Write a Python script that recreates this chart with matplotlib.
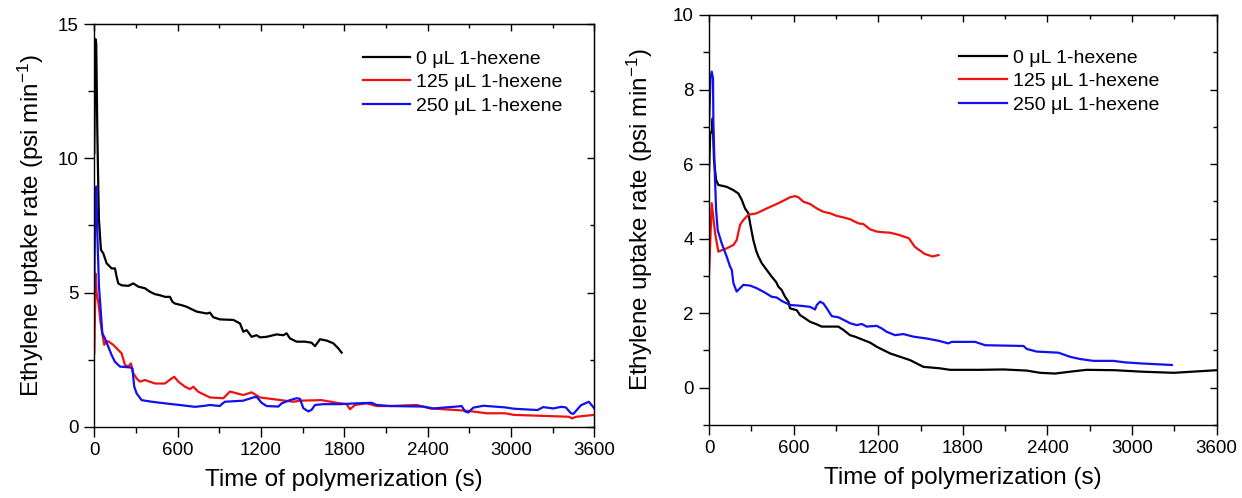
import matplotlib
matplotlib.use('Agg')
import matplotlib.pyplot as plt
from matplotlib.ticker import MultipleLocator

plt.rcParams['font.family'] = ['Liberation Sans', 'DejaVu Sans']
plt.rcParams['mathtext.fontset'] = 'custom'
plt.rcParams['mathtext.rm'] = 'Liberation Sans'
plt.rcParams['mathtext.it'] = 'Liberation Sans:italic'

labels = ['0 \u03bcL 1-hexene', '125 \u03bcL 1-hexene', '250 \u03bcL 1-hexene']
colors = ['black', '#f01010', '#1010f0']

# left panel: time (s), uptake rate (psi/min)
t_a0 = [0, 8, 14, 22, 30, 34, 48, 65, 89, 125, 149, 161, 173, 197, 245, 281, 317, 365, 401,
        437, 473, 509, 545, 562, 581, 629, 665, 689, 737, 809, 833, 857, 905, 1001, 1049,
        1073, 1097, 1133, 1169, 1193, 1241, 1313, 1361, 1385, 1409, 1457, 1517, 1565, 1589,
        1625, 1673, 1721, 1757, 1781]
v_a0 = [10.2, 14.45, 14.3, 11.0, 8.6, 7.7, 6.59, 6.46, 6.09, 5.90, 5.90, 5.59, 5.34, 5.27,
        5.25, 5.34, 5.22, 5.16, 5.03, 4.94, 4.90, 4.84, 4.84, 4.66, 4.59, 4.53, 4.47, 4.41,
        4.29, 4.22, 4.25, 4.08, 4.00, 3.98, 3.85, 3.54, 3.60, 3.35, 3.41, 3.33, 3.35, 3.44,
        3.41, 3.48, 3.29, 3.17, 3.17, 3.13, 3.00, 3.26, 3.21, 3.11, 2.92, 2.76]

t_a125 = [0, 10, 17, 30, 45, 60, 72, 85, 101, 137, 173, 197, 221, 245, 264, 281, 305, 329,
          365, 437, 509, 557, 576, 605, 653, 689, 713, 749, 797, 833, 929, 977, 1073, 1133,
          1193, 1313, 1433, 1481, 1637, 1745, 1817, 1841, 1877, 1961, 2033, 2129, 2321,
          2417, 2513, 2609, 2705, 2825, 2957, 3020, 3418, 3440, 3470, 3600]
v_a125 = [2.73, 5.70, 4.99, 4.6, 3.9, 3.4, 3.05, 3.18, 3.18, 3.05, 2.86, 2.73, 2.30, 2.24,
          2.36, 1.99, 1.80, 1.68, 1.74, 1.61, 1.61, 1.80, 1.86, 1.68, 1.49, 1.40, 1.49, 1.30,
          1.18, 1.09, 1.06, 1.31, 1.18, 1.28, 1.09, 1.01, 0.93, 0.97, 0.99, 0.89, 0.84, 0.65,
          0.81, 0.87, 0.77, 0.77, 0.81, 0.68, 0.65, 0.62, 0.58, 0.50, 0.50, 0.44, 0.37, 0.31,
          0.37, 0.44]

t_a250 = [0, 8, 15, 22, 34, 48, 58, 77, 101, 125, 149, 185, 257, 274, 288, 305, 341, 413,
          509, 629, 725, 797, 833, 905, 917, 941, 1073, 1145, 1169, 1205, 1241, 1325, 1349,
          1409, 1457, 1481, 1505, 1541, 1565, 1589, 1649, 1769, 1889, 1997, 2033, 2129, 2369,
          2441, 2609, 2645, 2669, 2693, 2729, 2801, 2957, 3020, 3191, 3232, 3305, 3362, 3395,
          3432, 3450, 3504, 3561, 3600]
v_a250 = [5.0, 8.9, 8.95, 7.2, 5.22, 4.22, 3.48, 3.29, 2.98, 2.67, 2.42, 2.24, 2.21, 2.17,
          1.49, 1.24, 0.99, 0.93, 0.87, 0.80, 0.74, 0.78, 0.81, 0.77, 0.84, 0.93, 0.97, 1.09,
          1.11, 0.89, 0.77, 0.75, 0.87, 0.99, 1.06, 1.04, 0.69, 0.57, 0.63, 0.81, 0.84, 0.84,
          0.87, 0.89, 0.81, 0.77, 0.75, 0.68, 0.75, 0.77, 0.57, 0.53, 0.71, 0.78, 0.72, 0.67,
          0.62, 0.73, 0.68, 0.74, 0.72, 0.50, 0.48, 0.80, 0.93, 0.68]

# right panel
t_b0 = [0, 8, 20, 26, 35, 50, 66, 125, 173, 208, 232, 255, 279, 291, 314, 333, 350, 374,
        409, 444, 475, 492, 515, 539, 563, 574, 622, 645, 681, 716, 764, 799, 917, 953, 1000,
        1035, 1095, 1142, 1189, 1236, 1284, 1355, 1426, 1473, 1520, 1638, 1709, 1922, 2087,
        2253, 2348, 2454, 2560, 2678, 2876, 3071, 3296, 3600]
v_b0 = [5.8, 6.8, 6.9, 7.23, 6.11, 5.57, 5.44, 5.39, 5.30, 5.21, 5.04, 4.81, 4.68, 4.41,
        3.96, 3.69, 3.52, 3.34, 3.16, 2.98, 2.84, 2.71, 2.62, 2.44, 2.31, 2.13, 2.08, 1.95,
        1.86, 1.77, 1.70, 1.64, 1.64, 1.55, 1.41, 1.37, 1.28, 1.21, 1.10, 1.01, 0.92, 0.83,
        0.74, 0.65, 0.56, 0.52, 0.48, 0.48, 0.49, 0.46, 0.40, 0.38, 0.43, 0.48, 0.47, 0.43,
        0.40, 0.47]

t_b125 = [0, 19, 43, 66, 90, 125, 173, 196, 220, 243, 279, 338, 409, 480, 539, 574, 610,
          634, 669, 716, 764, 811, 858, 905, 953, 1000, 1059, 1095, 1142, 1189, 1236, 1284,
          1347, 1417, 1459, 1529, 1585, 1627]
v_b125 = [3.07, 4.95, 4.14, 3.65, 3.69, 3.74, 3.83, 3.96, 4.37, 4.50, 4.64, 4.68, 4.81,
          4.93, 5.04, 5.11, 5.14, 5.11, 4.99, 4.93, 4.81, 4.72, 4.68, 4.61, 4.57, 4.52, 4.41,
          4.39, 4.25, 4.19, 4.17, 4.16, 4.10, 4.01, 3.78, 3.59, 3.52, 3.56]

t_b250 = [0, 10, 19, 28, 31, 40, 50, 61, 90, 125, 149, 161, 173, 196, 220, 243, 291, 338,
          397, 444, 480, 515, 574, 645, 716, 752, 764, 787, 811, 835, 870, 917, 965, 1000,
          1047, 1083, 1118, 1189, 1225, 1260, 1319, 1378, 1449, 1544, 1627, 1697, 1721, 1887,
          1958, 2230, 2253, 2324, 2478, 2560, 2631, 2726, 2867, 2950, 3071, 3282]
v_b250 = [7.0, 8.3, 8.48, 8.3, 7.0, 5.84, 4.77, 4.23, 3.87, 3.52, 3.25, 3.16, 2.80, 2.58,
          2.67, 2.76, 2.74, 2.67, 2.55, 2.44, 2.42, 2.33, 2.22, 2.20, 2.17, 2.10, 2.22, 2.31,
          2.26, 2.13, 1.92, 1.89, 1.80, 1.73, 1.68, 1.71, 1.64, 1.66, 1.59, 1.50, 1.41, 1.44,
          1.37, 1.32, 1.26, 1.19, 1.23, 1.23, 1.14, 1.12, 1.04, 0.97, 0.94, 0.83, 0.77, 0.72,
          0.72, 0.68, 0.65, 0.61]


def style(ax, ymin, ymax, ymaj, ymin_step, ylabelpad):
    ax.set_xlim(0, 3600)
    ax.set_ylim(ymin, ymax)
    ax.xaxis.set_major_locator(MultipleLocator(600))
    ax.xaxis.set_minor_locator(MultipleLocator(300))
    ax.yaxis.set_major_locator(MultipleLocator(ymaj))
    ax.yaxis.set_minor_locator(MultipleLocator(ymin_step))
    ax.tick_params(which='major', direction='out', length=7, width=1.0, labelsize=13.5, pad=4)
    ax.tick_params(which='minor', direction='out', length=4, width=1.0)
    for s in ax.spines.values():
        s.set_linewidth(1.0)
    # Origin-style: ticks on top/right point inward
    top = ax.secondary_xaxis('top')
    top.xaxis.set_major_locator(MultipleLocator(600))
    top.xaxis.set_minor_locator(MultipleLocator(300))
    top.tick_params(which='major', direction='in', length=5, width=1.0, labeltop=False)
    top.tick_params(which='minor', direction='in', length=3, width=1.0)
    right = ax.secondary_yaxis('right')
    right.yaxis.set_major_locator(MultipleLocator(ymaj))
    right.yaxis.set_minor_locator(MultipleLocator(ymin_step))
    right.tick_params(which='major', direction='in', length=5, width=1.0, labelright=False)
    right.tick_params(which='minor', direction='in', length=3, width=1.0)
    ax.set_xlabel('Time of polymerization (s)', fontsize=17.5, labelpad=7)
    ax.set_ylabel('Ethylene uptake rate (psi min$^{-1}$)', fontsize=17.5, labelpad=ylabelpad)


fig = plt.figure(figsize=(12.42, 4.98), dpi=100)
ax1 = fig.add_axes([0.0759, 0.1432, 0.4026, 0.808])
ax2 = fig.add_axes([0.5709, 0.1466, 0.4087, 0.8233])

for t, v, c, lab in zip([t_a0, t_a125, t_a250], [v_a0, v_a125, v_a250], colors, labels):
    ax1.plot(t, v, color=c, lw=1.6, label=lab)
for t, v, c, lab in zip([t_b0, t_b125, t_b250], [v_b0, v_b125, v_b250], colors, labels):
    ax2.plot(t, v, color=c, lw=1.6, label=lab)

style(ax1, 0, 15, 5, 2.5, 9)
style(ax2, -1, 10, 2, 1, 13)

for ax, anchor in [(ax1, (0.537, 0.936)), (ax2, (0.493, 0.917))]:
    ax.legend(loc='upper left', bbox_to_anchor=anchor, frameon=False, fontsize=14,
              borderpad=0, borderaxespad=0, handlelength=2.45, handletextpad=0.3,
              labelspacing=0.3)

fig.savefig('out.png', dpi=100)
